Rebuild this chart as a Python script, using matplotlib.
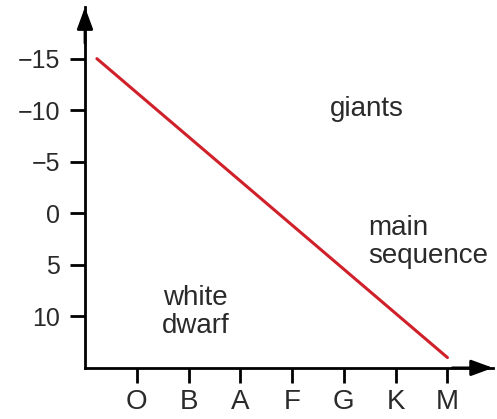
import matplotlib.pyplot as plt

plt.rcParams["font.family"] = ["Liberation Sans", "DejaVu Sans"]

# Spectral classes along the bottom, magnitudes up the side
spectral_classes = ["O", "B", "A", "F", "G", "K", "M"]
class_positions = [1, 2, 3, 4, 5, 6, 7]
magnitude_ticks = [-15, -10, -5, 0, 5, 10]

# Main sequence sketched as a straight line
sequence_x = [0.23, 7.0]
sequence_y = [-15, 14]

TEXT = "#2a2a2a"


def main():
    fig = plt.figure(figsize=(4.97, 4.19), dpi=100)
    ax = fig.add_axes([0.171, 0.122, 0.821, 0.861])

    ax.plot(sequence_x, sequence_y, color="#d0202a", linewidth=2.2,
            solid_capstyle="round")

    ax.set_xlim(0, 7.88)
    ax.set_ylim(15, -20)

    ax.set_xticks(class_positions)
    ax.set_xticklabels(spectral_classes)
    ax.set_yticks(magnitude_ticks)
    ax.set_yticklabels([str(v).replace("-", "\u2212") for v in magnitude_ticks])
    ax.tick_params(length=11, width=2, color="black", labelcolor=TEXT)
    ax.tick_params(axis="x", pad=4, labelsize=20)
    ax.tick_params(axis="y", pad=7, labelsize=18)

    for side in ("top", "right"):
        ax.spines[side].set_visible(False)
    for side in ("left", "bottom"):
        ax.spines[side].set_linewidth(2)

    # arrowheads on both axes
    head = "-|>,head_length=0.6,head_width=0.22"
    ax.annotate("", xy=(0, 1.0), xytext=(0, 0.9), xycoords="axes fraction",
                arrowprops=dict(arrowstyle=head, color="black", lw=2,
                                mutation_scale=22, shrinkA=0, shrinkB=0),
                annotation_clip=False)
    ax.annotate("", xy=(1.0, 0), xytext=(0.9, 0), xycoords="axes fraction",
                arrowprops=dict(arrowstyle=head, color="black", lw=2,
                                mutation_scale=22, shrinkA=0, shrinkB=0),
                annotation_clip=False)

    ax.text(5.44, -10.1, "giants", fontsize=20, color=TEXT,
            ha="center", va="center")
    ax.text(5.46, 2.8, "main\nsequence", fontsize=20, color=TEXT,
            ha="left", va="center", linespacing=1.1)
    ax.text(2.14, 9.6, "white\ndwarf", fontsize=20, color=TEXT,
            ha="center", va="center", linespacing=1.1)

    fig.savefig("out.png", dpi=100, facecolor="white")


if __name__ == "__main__":
    main()
